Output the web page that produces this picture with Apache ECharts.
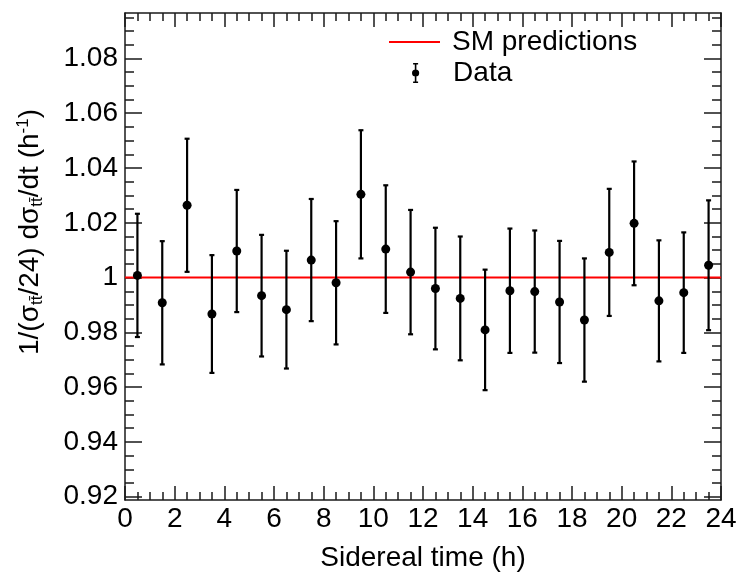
<!DOCTYPE html>
<html>
<head>
<meta charset="utf-8">
<script src="https://cdn.jsdelivr.net/npm/echarts@6/dist/echarts.min.js"></script>
<style>
html,body{margin:0;padding:0;background:#fff;}
#chart{width:738px;height:572px;}
</style>
</head>
<body>
<div id="chart"></div>
<script>
// ---- data ----
var siderealHours = [0.5,1.5,2.5,3.5,4.5,5.5,6.5,7.5,8.5,9.5,10.5,11.5,12.5,13.5,14.5,15.5,16.5,17.5,18.5,19.5,20.5,21.5,22.5,23.5];
var dataValues = [1.0008,0.9908,1.0264,0.9867,1.0097,0.9934,0.9883,1.0064,0.9981,1.0304,1.0104,1.0020,0.9960,0.9924,0.9809,0.9952,0.9949,0.9911,0.9845,1.0092,1.0198,0.9915,0.9945,1.0045];
var dataErrors = [0.0225,0.0225,0.0243,0.0215,0.0223,0.0222,0.0215,0.0223,0.0225,0.0234,0.0233,0.0227,0.0222,0.0226,0.0220,0.0227,0.0223,0.0223,0.0225,0.0232,0.0226,0.0221,0.0220,0.0237];
var smPrediction = [[0,1],[24,1]];
var yTickValues = [0.92,0.94,0.96,0.98,1.00,1.02,1.04,1.06,1.08];
var yTickLabels = ['0.92','0.94','0.96','0.98','1','1.02','1.04','1.06','1.08'];
var xTickLabels = ['0','2','4','6','8','10','12','14','16','18','20','22','24'];
var yMin = 0.9188, yMax = 1.0966;

var yMinor = [];
for (var k = 0; k <= 35; k++) { yMinor.push(Math.round((0.92 + k*0.005)*1000)/1000); }

var FONT = 'Liberation Sans, Arial, Helvetica, sans-serif';
var FS = 28;
var frameColor = '#1a1a1a';

var points = siderealHours.map(function(x,i){ return [x, dataValues[i], dataErrors[i]]; });

function yAxisDef(pos, major, labels){
  return {
    type:'value', position:pos, min:yMin, max:yMax,
    axisLine:{show:major, lineStyle:{color:frameColor,width:1.5}},
    splitLine:{show:false},
    axisTick:{show:true, inside:true, length: major?17:9, customValues: major?yTickValues:yMinor,
              lineStyle:{color:frameColor,width:1.5}},
    axisLabel:{show:labels, customValues: yTickValues, margin:7,
               formatter:function(v){ var i = yTickValues.findIndex(function(t){return Math.abs(t-v)<1e-9;}); return i>=0?yTickLabels[i]:''; },
               fontSize:FS, fontFamily:FONT, color:'#000'}
  };
}
function xAxisDef(pos, labels){
  return {
    type:'value', position:pos, min:0, max:24, interval:2,
    axisLine:{show:true, onZero:false, lineStyle:{color:frameColor,width:1.5}},
    splitLine:{show:false},
    axisTick:{show:true, inside:true, length:14, lineStyle:{color:frameColor,width:1.5}},
    minorTick:{show:true, splitNumber:4, length:8, lineStyle:{color:frameColor,width:1.5}},
    minorSplitLine:{show:false},
    axisLabel:{show:labels, margin:5, fontSize:FS, fontFamily:FONT, color:'#000',
               formatter:function(v){ return xTickLabels[Math.round(v/2)]; }},
    name: labels ? 'Sidereal time (h)' : '',
    nameLocation:'middle', nameGap:44,
    nameTextStyle:{fontSize:FS, fontFamily:FONT, color:'#000'}
  };
}

var chart = echarts.init(document.getElementById('chart'), null, {renderer:'canvas'});
var option = {
  animation:false,
  backgroundColor:'#fff',
  grid:{left:125, right:17, top:13, bottom:72, containLabel:false, outerBoundsMode:'none'},
  xAxis:[xAxisDef('bottom', true), xAxisDef('top', false)],
  yAxis:[yAxisDef('left', true, true), yAxisDef('left', false, false),
         yAxisDef('right', true, false), yAxisDef('right', false, false)],
  legend:[
    {show:true, left:384, top:23, orient:'vertical', itemWidth:51, itemHeight:20, itemGap:0,
     data:[{name:'SM predictions', icon:'path://M0,0 H51 V2 H0 Z'}],
     textStyle:{fontSize:FS, fontFamily:FONT, color:'#000', padding:[0,0,10,7]}, selectedMode:false},
    {show:true, left:407, top:54, orient:'vertical', itemWidth:51, itemHeight:20, itemGap:0,
     data:[{name:'Data', icon:'path://M2.5,0 H7.5 V1.6 H5.8 V18.4 H7.5 V20 H2.5 V18.4 H4.2 V1.6 H2.5 Z M8.6,10 A3.6,3.6 0 1 1 1.4,10 A3.6,3.6 0 1 1 8.6,10 Z'}],
     textStyle:{fontSize:FS, fontFamily:FONT, color:'#000', padding:[0,0,0,7]}, selectedMode:false}
  ],
  graphic:[{
    type:'text', x:30, y:232, rotation:Math.PI/2,
    style:{
      text:'{n|1/(σ}{s|tt̄}{n|/24) dσ}{s|tt̄}{n|/dt (h}{p|-1}{n|)}',
      align:'center', verticalAlign:'middle', textAlign:'center', textVerticalAlign:'middle',
      fill:'#000',
      rich:{
        n:{fontSize:FS, fontFamily:FONT, fill:'#000', color:'#000'},
        s:{fontSize:17, fontFamily:FONT, fill:'#000', color:'#000', verticalAlign:'bottom', padding:[14,0,0,0]},
        p:{fontSize:17, fontFamily:FONT, fill:'#000', color:'#000', verticalAlign:'top', padding:[0,0,12,0]}
      }
    }
  }],
  series:[
    {
      name:'SM predictions', type:'line', xAxisIndex:0, yAxisIndex:0,
      data:smPrediction, showSymbol:false, symbol:'none',
      lineStyle:{color:'#ff0000', width:2}, itemStyle:{color:'#ff0000'}, z:3
    },
    {
      name:'Data errors', type:'custom', xAxisIndex:0, yAxisIndex:0,
      data:points, encode:{x:0,y:1}, z:4,
      renderItem:function(params, api){
        var x = api.value(0), y = api.value(1), e = api.value(2);
        var top = api.coord([x, y+e]);
        var bot = api.coord([x, y-e]);
        var st = {stroke:'#000', lineWidth:2.2};
        return {type:'group', children:[
          {type:'line', shape:{x1:top[0],y1:top[1],x2:bot[0],y2:bot[1]}, style:st},
          {type:'line', shape:{x1:top[0]-2.5,y1:top[1],x2:top[0]+2.5,y2:top[1]}, style:st},
          {type:'line', shape:{x1:bot[0]-2.5,y1:bot[1],x2:bot[0]+2.5,y2:bot[1]}, style:st}
        ]};
      }
    },
    {
      name:'Data', type:'scatter', xAxisIndex:0, yAxisIndex:0,
      data:points.map(function(p){return [p[0],p[1]];}),
      symbol:'circle', symbolSize:9, itemStyle:{color:'#000', opacity:1}, z:5
    }
  ]
};
chart.setOption(option);
</script>
</body>
</html>
